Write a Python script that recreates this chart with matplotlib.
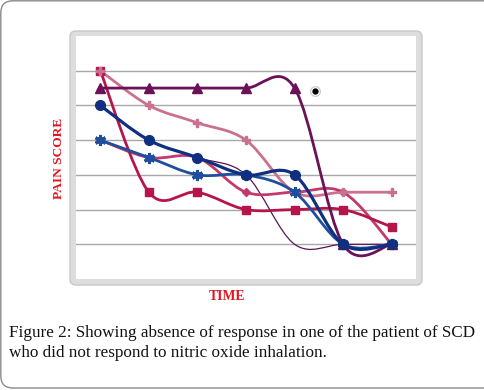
import numpy as np
import matplotlib
matplotlib.use("Agg")
import matplotlib.pyplot as plt
from matplotlib.path import Path
from matplotlib.patches import PathPatch, FancyBboxPatch

# ---- data ----
time_points = [1, 2, 3, 4, 5, 6, 7]
series_triangle = [5.5, 5.5, 5.5, 5.5, 5.5, 1, 1]
series_thin = [5, 4, 3.5, 3, 1, 1, 1]
series_circle = [5, 4, 3.5, 3, 3, 1, 1]
series_star = [4, 3.5, 3, 3, 2.5, 1, 1]
series_square = [6, 2.5, 2.5, 2, 2, 2, 1.5]
series_diamond = [4, 3.5, 3.5, 2.5, 2.5, 2.5, 1]
series_plus = [6, 5, 4.5, 4, 2.5, 2.5, 2.5]
stray_point = (5.42, 5.42)

y_label = "PAIN SCORE"
x_label = "TIME"
caption_lines = ["Figure 2: Showing absence of response in one of the patient of SCD",
                 "who did not respond to nitric oxide inhalation."]

W, H = 484, 390
fig = plt.figure(figsize=(W / 100, H / 100), dpi=100)
fig.patch.set_facecolor("white")

def fx(px):
    return px / W

def fy(py):
    return 1 - py / H

# outer rounded border of the image
outer = FancyBboxPatch((fx(0.8), fy(388)), 1.2, fy(0.8) - fy(388),
                       boxstyle="round,pad=0,rounding_size=0.025",
                       transform=fig.transFigure, facecolor="none",
                       edgecolor="#8a8a8a", linewidth=1.0, mutation_aspect=W / H,
                       zorder=-5)
fig.patches.append(outer)

# chart frame (thick light gray rounded border)
frame = FancyBboxPatch((fx(70), fy(285)), fx(422) - fx(70), fy(31) - fy(285),
                       boxstyle="round,pad=0,rounding_size=0.012",
                       transform=fig.transFigure, facecolor="#dddddd",
                       edgecolor="#c8c8c8", linewidth=1.0, mutation_aspect=W / H,
                       zorder=-5)
fig.patches.append(frame)

ax = fig.add_axes([fx(76), fy(279), fx(416) - fx(76), fy(36) - fy(279)])
ax.set_zorder(5)
ax.set_facecolor("white")
ax.set_xlim(0.5, 7.5)
ax.set_ylim(0, 7)
for s in ax.spines.values():
    s.set_visible(False)
ax.set_xticks([])
ax.set_yticks([])
for g in range(1, 7):
    ax.axhline(g, color="#a8a8a8", linewidth=1.0, zorder=1)


def smooth_path(xs, ys):
    pts = np.column_stack([xs, ys]).astype(float)
    n = len(pts)
    verts = [pts[0]]
    codes = [Path.MOVETO]
    for i in range(n - 1):
        p0 = pts[i - 1] if i > 0 else pts[i]
        p1 = pts[i]
        p2 = pts[i + 1]
        p3 = pts[i + 2] if i + 2 < n else pts[i + 1]
        c1 = p1 + (p2 - p0) / 6.0
        c2 = p2 - (p3 - p1) / 6.0
        verts += [c1, c2, p2]
        codes += [Path.CURVE4] * 3
    return Path(verts, codes)


def draw(ys, color, lw, marker, ms, z, mz=None, mew=1.0, show_markers=True):
    p = smooth_path(time_points, ys)
    ax.add_patch(PathPatch(p, facecolor="none", edgecolor=color, linewidth=lw,
                           zorder=z, capstyle="round", joinstyle="round"))
    if show_markers:
        ax.plot(time_points, ys, linestyle="none", marker=marker, markersize=ms,
                color=color, markeredgecolor=color, markeredgewidth=mew,
                zorder=mz if mz is not None else z + 0.5)


draw(series_thin, "#5a1458", 0.9, None, 0, 2, show_markers=False)
draw(series_plus, "#c9718f", 2.0, "P", 5.5, 3, mz=5.8)
draw(series_diamond, "#c23a6c", 2.0, "D", 4.5, 4)
draw(series_square, "#b5154b", 2.0, "s", 6, 5)
draw(series_star, "#1f4f9c", 2.0, (6, 2, 0), 8, 6, mew=2.2)
draw(series_triangle, "#6a1158", 2.0, "^", 7, 7)
draw(series_circle, "#10307f", 2.3, "o", 7, 8)

# stray marker
ax.plot([stray_point[0]], [stray_point[1]], marker="o", markersize=7,
        color="white", markeredgecolor="#d0d0d0", zorder=9)
ax.plot([stray_point[0]], [stray_point[1]], marker="o", markersize=3.5,
        color="black", zorder=10)

fig.text(fx(59), fy(158), y_label, rotation=90, ha="center", va="center",
         color="#e8141c", fontsize=9.6, fontweight="bold", family="Liberation Serif")
fig.text(fx(227), fy(297), x_label, ha="center", va="center",
         color="#e8141c", fontsize=9.8, fontweight="bold", family="Liberation Serif")

fig.text(fx(9), fy(333), caption_lines[0], ha="left", va="center",
         color="#111111", fontsize=12.3, family="Liberation Serif")
fig.text(fx(9), fy(353), caption_lines[1], ha="left", va="center",
         color="#111111", fontsize=12.3, family="Liberation Serif")

fig.savefig("out.png", dpi=100)
